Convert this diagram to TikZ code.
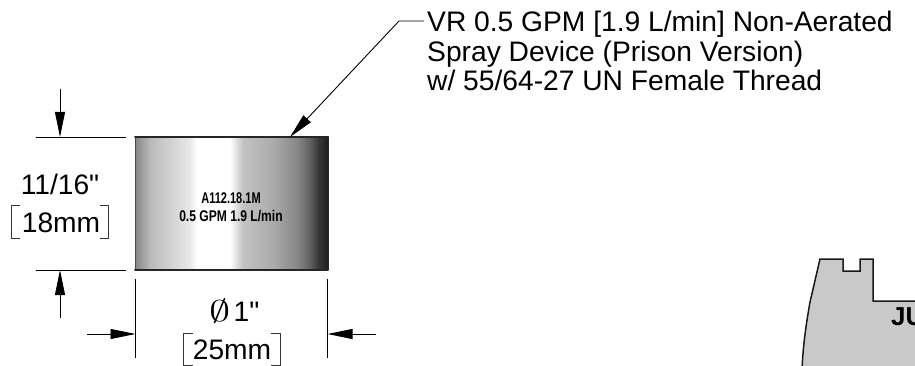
\documentclass[tikz,border=0pt]{standalone}
\usepackage{graphicx}
\usepackage{fontspec}
\setmainfont{Liberation Sans}[Ligatures=TeXOff]
\usetikzlibrary{arrows.meta}
\pgfdeclarehorizontalshading{bodyshade}{100bp}{
 color(0bp)=(black!48); color(25bp)=(black!48); color(28.9bp)=(black!27); color(32.3bp)=(black!21);
 color(39.2bp)=(black!9); color(41bp)=(white); color(49.6bp)=(white); color(51.4bp)=(black!13);
 color(53bp)=(black!24); color(60.8bp)=(black!33); color(67bp)=(black!47); color(70.3bp)=(black!62);
 color(72.5bp)=(black!78); color(75bp)=(black!88); color(100bp)=(black!88)}
\tikzset{
 x=1pt,y=-1pt,
 dimline/.style={line width=0.9pt,black},
 dimarrow/.style={dimline,-{Triangle[length=25pt,width=10pt]}},
 thin bracket/.style={line width=0.7pt,black!80},
 dimtext/.style={font=\fontsize{28.2}{29.5}\selectfont,inner sep=0pt,anchor=base,text=black},
 calltext/.style={font=\fontsize{28.2}{29.5}\selectfont,inner sep=0pt,anchor=base west,align=left,text=black},
 stamp/.style={font=\bfseries\fontsize{15.5}{18}\selectfont,inner sep=0pt,anchor=base,text=black}
}
\begin{document}
\begin{tikzpicture}
\useasboundingbox (0,0) rectangle (915,366);
% body
\node[minimum width=193pt,minimum height=133pt,inner sep=0pt,outer sep=0pt,shading=bodyshade,anchor=north west] (body) at (135,137) {};
\draw[line width=1pt,black!70] (body.north west) -- (body.south west);
\draw[line width=1pt,black!85] (body.north east) -- (body.south east);
\draw[line width=2pt,black!85,line cap=round] (body.north west) -- (body.north east);
\draw[line width=2pt,black!85,line cap=round] (body.south west) -- (body.south east);
\node[stamp] (st1) at (231,204) {\scalebox{0.71}[1]{A112.18.1M}};
\node[stamp] (st2) at (231,221.5) {\scalebox{0.78}[1]{0.5 GPM 1.9 L/min}};
% callout
\node[calltext] (c1) at (427,32) {VR 0.5 GPM [1.9 L/min] Non-Aerated};
\node[calltext] (c2) at (427,62) {Spray Device (Prison Version)};
\node[calltext] (c3) at (427,91) {w/ 55/64-27 UN Female Thread};
\coordinate (elbow) at (399,21);
\coordinate (callstart) at (424,21);
\coordinate (tip) at (290,137);
\draw[dimarrow] (callstart) -- (elbow) -- (tip);
% height dimension
\coordinate (et1) at (36,137); \coordinate (et2) at (126,137);
\coordinate (eb1) at (36,270); \coordinate (eb2) at (126,270);
\draw[dimline] (et1) -- (et2);
\draw[dimline] (eb1) -- (eb2);
\coordinate (a1s) at (60,89); \coordinate (a1e) at (60,137);
\coordinate (a2s) at (60,318); \coordinate (a2e) at (60,270);
\draw[dimarrow] (a1s) -- (a1e);
\draw[dimarrow] (a2s) -- (a2e);
\node[dimtext] (h1) at (60,194) {11/16"};
\node[dimtext] (h2) at (61,232) {18mm};
\draw[thin bracket] (20,205) -- (11.5,205) -- (11.5,238) -- (20,238);
\draw[thin bracket] (100,205) -- (108.5,205) -- (108.5,238) -- (100,238);
% width dimension
\coordinate (v1a) at (135.5,279); \coordinate (v1b) at (135.5,358);
\coordinate (v2a) at (327.5,279); \coordinate (v2b) at (327.5,358);
\draw[dimline] (v1a) -- (v1b);
\draw[dimline] (v2a) -- (v2b);
\coordinate (a3s) at (87,334); \coordinate (a3e) at (135.5,334);
\coordinate (a4s) at (376,334); \coordinate (a4e) at (327.5,334);
\draw[dimarrow] (a3s) -- (a3e);
\draw[dimarrow] (a4s) -- (a4e);
\node[dimtext] (d1) at (234.5,321) {\scalebox{1.7}[1.2]{$\emptyset$}\hspace{3pt}1"};
\node[dimtext] (d2) at (232,359) {25mm};
\draw[thin bracket] (193,333.5) -- (183.5,333.5) -- (183.5,365) -- (193,365);
\draw[thin bracket] (271,333.5) -- (280.5,333.5) -- (280.5,365) -- (271,365);
% lower right part
\begin{scope}
\clip (780,240) rectangle (915,366);
\path[fill=black!21,draw=black!90,line width=1.5pt]
 (802,370) .. controls (803,345) and (806,325) .. (810,302) -- (820,259) -- (843,259) -- (843,271) -- (860,271) -- (860,259) -- (873,259) -- (873,301) -- (920,301) -- (920,370) -- cycle;
\node[font=\bfseries\fontsize{26}{26}\selectfont,inner sep=0pt,anchor=base west,text=black] (ju) at (891,325) {JU};
\end{scope}
\end{tikzpicture}
\end{document}
